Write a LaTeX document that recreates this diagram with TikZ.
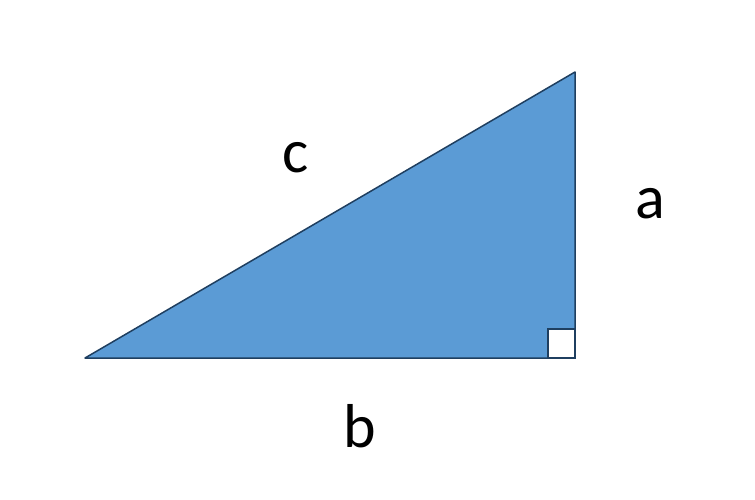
\documentclass[tikz,border=0pt]{standalone}
\usepackage{fontspec}
\setmainfont{Carlito}
\definecolor{triblue}{HTML}{5B9BD5}
\definecolor{triedge}{HTML}{1F3F60}

\begin{document}
\begin{tikzpicture}[x=1pt,y=-1pt]
      \tikzstyle{side}=[font=\fontsize{62}{70}\selectfont, text=black];
      \useasboundingbox (0,0) rectangle (755,500);
      \coordinate (A) at (85,358);
      \coordinate (C) at (575,358);
      \coordinate (B) at (575,72);
      \filldraw[fill=triblue, draw=triedge, line width=1.5pt, line join=round](A)--(C)--(B)--cycle;
      \filldraw[fill=white, draw=triedge, line width=1.8pt](548,358) rectangle (575,329);
      \node[side] (lc) at (296,158) {c};
      \node[side] (la) at (650,204) {a};
      \node[side] (lb) at (360,426) {b};
    \end{tikzpicture}
\end{document}
